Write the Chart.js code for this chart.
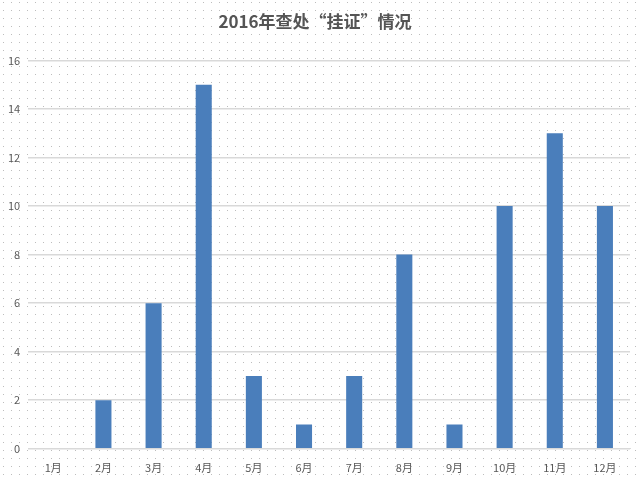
<!DOCTYPE html>
<html>
<head>
<meta charset="utf-8">
<script src="https://cdn.jsdelivr.net/npm/chart.js@4"></script>
<style>
  html, body { margin: 0; padding: 0; background: #fff; }
  #wrap { width: 640px; height: 480px; }
</style>
</head>
<body>
<div id="wrap"><canvas id="myChart" width="640" height="480"></canvas></div>
<script>
const months = ['1月', '2月', '3月', '4月', '5月', '6月', '7月', '8月', '9月', '10月', '11月', '12月'];
const cases = [0, 2, 6, 15, 3, 1, 3, 8, 1, 10, 13, 10];
const yTicks = [0, 2, 4, 6, 8, 10, 12, 14, 16];

// dotted paper background
const dots = {
  id: 'dots',
  beforeDraw(chart) {
    const c = chart.ctx;
    c.save();
    c.fillStyle = '#ffffff';
    c.fillRect(0, 0, chart.width, chart.height);
    c.fillStyle = '#bdbdbd';
    for (let y = 2; y < chart.height; y += 8) {
      for (let x = 3; x < chart.width; x += 8) {
        c.fillRect(x, y, 1, 1);
      }
    }
    c.restore();
  }
};

const ctx = document.getElementById('myChart').getContext('2d');
new Chart(ctx, {
  type: 'bar',
  data: {
    labels: months,
    datasets: [{
      label: '挂证',
      data: cases,
      backgroundColor: '#4a7ebb',
      barPercentage: 0.32,
      categoryPercentage: 1,
    }],
  },
  options: {
    responsive: false,
    animation: false,
    layout: { padding: { left: 0, right: 10, top: 0, bottom: 2 } },
    plugins: {
      legend: { display: false },
      tooltip: { enabled: false },
      title: {
        display: true,
        text: '2016年查处“挂证”情况',
        color: '#555555',
        font: { family: 'Noto Sans CJK SC', size: 17, weight: 'bold' },
        padding: { top: 11, bottom: 29 },
      },
    },
    scales: {
      x: {
        grid: { display: false },
        border: { color: '#d9d9d9' },
        ticks: { color: '#595959', font: { family: 'Noto Sans CJK SC', size: 11 }, padding: 4 },
      },
      y: {
        min: 0,
        max: 16,
        afterBuildTicks(axis) { axis.ticks = yTicks.map(v => ({ value: v })); },
        grid: { color: '#d9d9d9', lineWidth: 1.5, drawTicks: false },
        border: { display: false },
        ticks: { color: '#595959', font: { family: 'Noto Sans CJK SC', size: 11 }, padding: 8 },
      },
    },
  },
  plugins: [dots],
});
</script>
</body>
</html>
